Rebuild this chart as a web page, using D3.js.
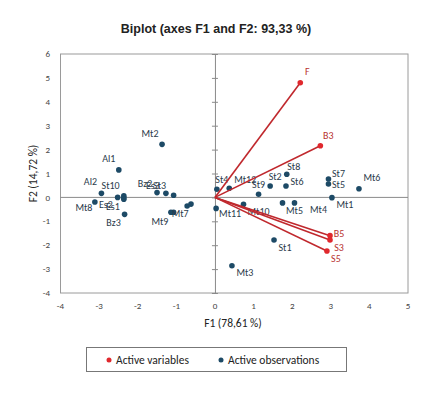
<!DOCTYPE html>
<meta charset="utf-8">
<style>
body { margin: 0; background: #fff; }
text { font-family: Carlito, "Liberation Sans", "DejaVu Sans", sans-serif; }
.title { font-family: "Liberation Sans", Arial, sans-serif; font-weight: bold; font-size: 12.5px; fill: #222; }
.lbl { font-size: 10px; }
</style>
<svg width="435" height="395"></svg>
<script src="https://cdnjs.cloudflare.com/ajax/libs/d3/7.8.5/d3.min.js"></script>
<script>

// active variables (arrows)
var varNames = ["F", "B3", "B5", "S3", "S5"];
var varF1 = [2.21, 2.73, 2.98, 2.98, 2.90];
var varF2 = [4.80, 2.16, -1.60, -1.78, -2.24];

// active observations ("" = label hidden under its neighbours in the picture)
var obsNames = ["Al1", "Al2", "Mt8", "St10", "Es2", "", "Es1", "Bz3", "Bz2", "Es3", "St3",
                "Mt9", "", "Mt7", "", "Mt2", "St4", "Mt12", "St9", "St2", "St8", "St6",
                "Mt10", "Mt11", "Mt5", "Mt4", "St7", "St5", "Mt6", "Mt1", "St1", "Mt3"];
var obsF1 = [-2.49, -2.94, -3.11, -2.52, -2.36, -2.36, -2.36, -2.34, -1.50, -1.27, -1.07,
             -1.14, -1.07, -0.72, -0.62, -1.37, 0.05, 0.37, 1.13, 1.43, 1.86, 1.84,
             0.74, 0.03, 1.75, 2.06, 2.94, 2.94, 3.73, 3.03, 1.53, 0.44];
var obsF2 = [1.15, 0.17, -0.19, 0.00, 0.07, -0.01, -0.08, -0.71, 0.20, 0.17, 0.09,
             -0.62, -0.62, -0.36, -0.28, 2.22, 0.34, 0.38, 0.13, 0.48, 0.97, 0.48,
             -0.29, -0.46, -0.23, -0.23, 0.77, 0.56, 0.36, -0.01, -1.78, -2.86];

var xTicks = [-4, -3, -2, -1, 0, 1, 2, 3, 4, 5];
var yTicks = [-4, -3, -2, -1, 0, 1, 2, 3, 4, 5, 6];

// label offsets in px (label centre relative to the point)
var offs = {
  F: [7, -11], B3: [8, -10], B5: [9, -2], S3: [9, 8], S5: [9, 8],
  Al1: [-10, -11], Al2: [-11, -12], Mt8: [-11, 6], St10: [-7, -12],
  Es2: [-18, 9], Es1: [-11, 7], Bz3: [-11, 8],
  Bz2: [-12, -9], Es3: [-13, -8], St3: [-14, -10],
  Mt9: [-11, 9], Mt7: [-7, 7], Mt2: [-12, -11],
  St4: [5, -10], Mt12: [16, -9], St9: [0, -10], St2: [5, -9], St8: [7, -8], St6: [11, -4],
  Mt10: [15, 7], Mt11: [14, 5], Mt5: [12, 8], Mt4: [24, 7],
  St7: [10, -5], St5: [10, 0], Mt6: [13, -11], Mt1: [13, 7], St1: [11, 8], Mt3: [13, 7]
};

var svg = d3.select("svg");
var x = d3.scaleLinear().domain([-4, 5]).range([60.5, 408]);
var y = d3.scaleLinear().domain([-4, 6]).range([293, 54]);

var red = "#c0282d", navy = "#1d4a66";

svg.append("text").attr("class", "title")
    .attr("x", 216).attr("y", 33).attr("text-anchor", "middle")
    .text("Biplot (axes F1 and F2: 93,33 %)");

// frame
svg.append("rect")
    .attr("x", x(-4)).attr("y", y(6))
    .attr("width", x(5) - x(-4)).attr("height", y(-4) - y(6))
    .attr("fill", "none").attr("stroke", "#9a9a9a").attr("stroke-width", 1);

// zero lines
svg.append("line")
    .attr("x1", x(-4)).attr("x2", x(5)).attr("y1", y(0)).attr("y2", y(0))
    .attr("stroke", "#8a8a8a");

var yAxis = svg.append("g")
    .attr("transform", "translate(" + x(0) + ",0)")
    .call(d3.axisLeft(y).tickValues(yTicks).tickSize(3).tickFormat(""));
yAxis.select(".domain").attr("stroke", "#8a8a8a");
yAxis.selectAll(".tick line").attr("stroke", "#8a8a8a").attr("x2", 3).attr("x1", -3);

// tick labels outside the frame
svg.append("g").selectAll("text")
    .data(yTicks).enter().append("text")
    .attr("x", 50).attr("y", function(d) { return y(d); })
    .attr("dy", "0.35em").attr("text-anchor", "end")
    .style("font-size", "9px").attr("fill", "#444")
    .text(function(d) { return d; });

svg.append("g").selectAll("text")
    .data(xTicks).enter().append("text")
    .attr("x", function(d) { return x(d); }).attr("y", 306)
    .attr("dy", "0.35em").attr("text-anchor", "middle")
    .style("font-size", "9px").attr("fill", "#444")
    .text(function(d) { return d; });

svg.append("text")
    .attr("x", 233).attr("y", 327).attr("text-anchor", "middle")
    .style("font-size", "11.5px").attr("fill", "#222")
    .text("F1 (78,61 %)");

svg.append("text")
    .attr("transform", "translate(37," + y(1) + ") rotate(-90)")
    .attr("text-anchor", "middle")
    .style("font-size", "11.5px").attr("fill", "#222")
    .text("F2 (14,72 %)");

// observations
var obs = obsNames.map(function(n, i) { return {name: n, f1: obsF1[i], f2: obsF2[i]}; });
var vars = varNames.map(function(n, i) { return {name: n, f1: varF1[i], f2: varF2[i]}; });

svg.append("g").selectAll("circle")
    .data(obs).enter().append("circle")
    .attr("cx", function(d) { return x(d.f1); })
    .attr("cy", function(d) { return y(d.f2); })
    .attr("r", 2.8).attr("fill", navy);

svg.append("g").selectAll("text")
    .data(obs.filter(function(d) { return d.name; })).enter().append("text")
    .attr("class", "lbl")
    .attr("x", function(d) { return x(d.f1) + offs[d.name][0]; })
    .attr("y", function(d) { return y(d.f2) + offs[d.name][1]; })
    .attr("dy", "0.35em").attr("text-anchor", "middle")
    .attr("fill", "#2b3b4b")
    .text(function(d) { return d.name; });

// variables
svg.append("g").selectAll("line")
    .data(vars).enter().append("line")
    .attr("x1", x(0)).attr("y1", y(0))
    .attr("x2", function(d) { return x(d.f1); })
    .attr("y2", function(d) { return y(d.f2); })
    .attr("stroke", red).attr("stroke-width", 1.6);

svg.append("g").selectAll("circle")
    .data(vars).enter().append("circle")
    .attr("cx", function(d) { return x(d.f1); })
    .attr("cy", function(d) { return y(d.f2); })
    .attr("r", 2.8).attr("fill", "#e0282d");

svg.append("g").selectAll("text")
    .data(vars).enter().append("text")
    .attr("class", "lbl")
    .attr("x", function(d) { return x(d.f1) + offs[d.name][0]; })
    .attr("y", function(d) { return y(d.f2) + offs[d.name][1]; })
    .attr("dy", "0.35em").attr("text-anchor", "middle")
    .attr("fill", "#b8322f")
    .text(function(d) { return d.name; });

// legend
var lg = svg.append("g");
lg.append("rect").attr("x", 86.5).attr("y", 347.5).attr("width", 260).attr("height", 24)
    .attr("fill", "#fff").attr("stroke", "#777");
lg.append("circle").attr("cx", 109).attr("cy", 360).attr("r", 2.5).attr("fill", "#e0282d");
lg.append("text").attr("x", 116).attr("y", 360).attr("dy", "0.35em")
    .style("font-size", "11.5px").attr("fill", "#222").text("Active variables");
lg.append("circle").attr("cx", 221).attr("cy", 360).attr("r", 2.5).attr("fill", navy);
lg.append("text").attr("x", 228).attr("y", 360).attr("dy", "0.35em")
    .style("font-size", "11.5px").attr("fill", "#222").text("Active observations");

</script>
